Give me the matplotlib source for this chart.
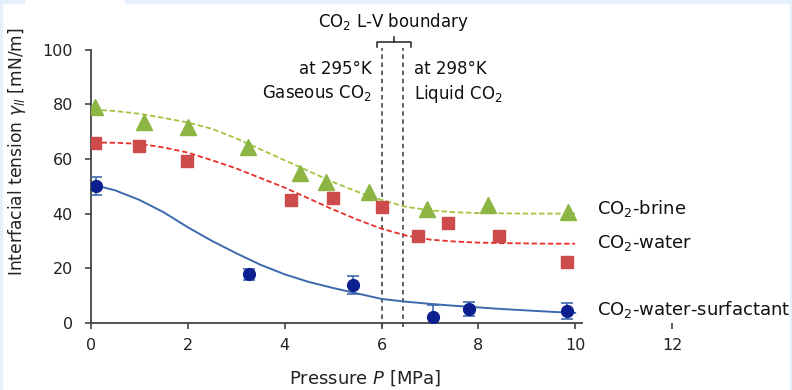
import matplotlib
matplotlib.use("Agg")
import matplotlib.pyplot as plt
from matplotlib.patches import Rectangle

plt.rcParams['font.family'] = ['DejaVu Sans']
plt.rcParams['mathtext.fontset'] = 'dejavusans'

# ---- measured data ----
brine_p = [0.08, 1.1, 2.0, 3.25, 4.32, 4.85, 5.75, 6.95, 8.2, 9.85]
brine_v = [79.0, 73.5, 71.7, 64.4, 54.8, 51.6, 47.9, 41.7, 43.1, 40.6]

water_p = [0.08, 1.0, 1.98, 4.13, 5.0, 6.0, 6.76, 7.38, 8.43, 9.83]
water_v = [65.8, 64.7, 59.2, 45.0, 45.7, 42.4, 31.8, 36.5, 31.8, 22.3]

surf_p = [0.1, 3.27, 5.41, 7.06, 7.8, 9.83]
surf_v = [50.1, 17.9, 13.9, 2.2, 5.1, 4.4]
surf_err = [3.2, 2.0, 3.2, 4.4, 2.5, 3.0]

# ---- fitted curves ----
fit_p = [0.05, 0.5, 1.0, 1.5, 2.0, 2.5, 3.0, 3.5, 4.0, 4.5, 5.0,
         5.5, 6.0, 6.5, 7.0, 7.5, 8.0, 8.5, 9.0, 9.5, 10.0]
brine_fit = [78.0, 77.5, 76.5, 75.0, 73.3, 71.0, 67.5, 63.5, 59.5, 55.5, 51.5,
             48.0, 45.0, 42.5, 41.2, 40.5, 40.2, 40.1, 40.0, 40.0, 40.0]
water_fit = [66.0, 65.9, 65.5, 64.2, 62.3, 59.5, 56.5, 53.0, 49.5, 45.5, 41.5,
             37.8, 34.5, 32.0, 30.5, 29.8, 29.4, 29.2, 29.1, 29.0, 29.0]
surf_fit = [50.5, 48.5, 45.0, 40.5, 35.0, 30.0, 25.5, 21.3, 17.8, 15.0, 12.8,
            10.8, 8.8, 7.8, 7.0, 6.3, 5.7, 5.1, 4.6, 4.1, 3.7]

boundary_p = [6.0, 6.45]
xticks = [0, 2, 4, 6, 8, 10, 12]
yticks = [0, 20, 40, 60, 80, 100]
series_labels = ['CO$_2$-brine', 'CO$_2$-water', 'CO$_2$-water-surfactant']
series_label_y = [41.7, 29.3, 4.8]

fig = plt.figure(figsize=(7.92, 3.90), dpi=100)
fig.patch.set_facecolor('white')
W, H = 792, 390
bg = '#e6f0fc'
for (x0, y0, w, h) in [(0, 0, 24, 3), (125, 0, 667, 3), (0, 0, 2, 390), (790, 0, 2, 390)]:
    fig.patches.append(Rectangle((x0 / W, 1 - (y0 + h) / H), w / W, h / H,
                                 transform=fig.transFigure, color=bg, zorder=0))

ax = fig.add_axes([91 / W, 1 - 323 / H, 581 / W, 273.5 / H])
ax.set_xlim(0, 12)
ax.set_ylim(0, 100)
ax.patch.set_alpha(0)

c_brine_line = '#a2c640'
c_brine_mk = '#8cb544'
c_water_line = '#e8302a'
c_water_mk = '#cd4b4b'
c_surf_line = '#3d6aad'
c_surf_mk = '#0b1f8f'

ax.plot(fit_p, brine_fit, color=c_brine_line, lw=1.3, ls=(0, (3, 1.5)), zorder=2)
ax.plot(fit_p, water_fit, color=c_water_line, lw=1.3, ls=(0, (3, 1.5)), zorder=2)
ax.plot(fit_p, surf_fit, color=c_surf_line, lw=1.4, zorder=2)

ax.plot(brine_p, brine_v, ls='none', marker='^', ms=12, color=c_brine_mk, mec=c_brine_mk, zorder=3)
ax.plot(water_p, water_v, ls='none', marker='s', ms=9, color=c_water_mk, mec=c_water_mk, zorder=3)
ax.errorbar(surf_p, surf_v, yerr=surf_err, ls='none', marker='o', ms=8.5,
            color=c_surf_mk, mec=c_surf_mk, ecolor=c_surf_line, elinewidth=1.2,
            capsize=4, capthick=1.2, zorder=3)

for bp in boundary_p:
    ax.plot([bp, bp], [-1.5, 100.5], color='#555555', lw=1.3, ls=(0, (2.5, 2)),
            zorder=1, clip_on=False)

# bracket for the L-V boundary
bx0, bx1 = 5.9, 6.6
bm = (bx0 + bx1) / 2
by = 102.8
ax.plot([bx0, bx0, bx1, bx1], [by - 1.8, by, by, by - 1.8], color='#222222', lw=1.1, clip_on=False)
ax.plot([bm, bm], [by, by + 1.6], color='#222222', lw=1.1, clip_on=False)
ax.text(bm, 110.0, 'CO$_2$ L-V boundary', ha='center', va='center', fontsize=12, color='#111111')

ax.text(5.8, 96, 'at 295°K\nGaseous CO$_2$', ha='right', va='top', fontsize=12,
        color='#111111', linespacing=1.3)
ax.text(6.67, 96, 'at 298°K\nLiquid CO$_2$', ha='left', va='top', fontsize=12,
        color='#111111', linespacing=1.3)

for lab, yv in zip(series_labels, series_label_y):
    ax.text(10.45, yv, lab, ha='left', va='center', fontsize=13, color='#111111', clip_on=False)

for s in ['top', 'right']:
    ax.spines[s].set_visible(False)
for s in ['left', 'bottom']:
    ax.spines[s].set_color('#444444')
    ax.spines[s].set_linewidth(1.3)
ax.spines['bottom'].set_bounds(0, 10.15)
ax.spines['left'].set_bounds(0, 100)

ax.set_xticks(xticks)
ax.set_yticks(yticks)
ax.tick_params(axis='both', direction='out', length=4, width=1.2, color='#444444',
               labelsize=11.5, labelcolor='#222222')
ax.tick_params(axis='x', pad=7)
ax.tick_params(axis='y', pad=9)

ax.set_xlabel('Pressure $P$ [MPa]', fontsize=13, color='#222222')
ax.set_ylabel('Interfacial tension $\\gamma_{ll}$ [mN/m]', fontsize=12.3, color='#222222')
ax.xaxis.set_label_coords(0.4716, -0.168)
ax.yaxis.set_label_coords(-0.108, 0.625)

fig.savefig('out.png', dpi=100, facecolor=fig.get_facecolor())
